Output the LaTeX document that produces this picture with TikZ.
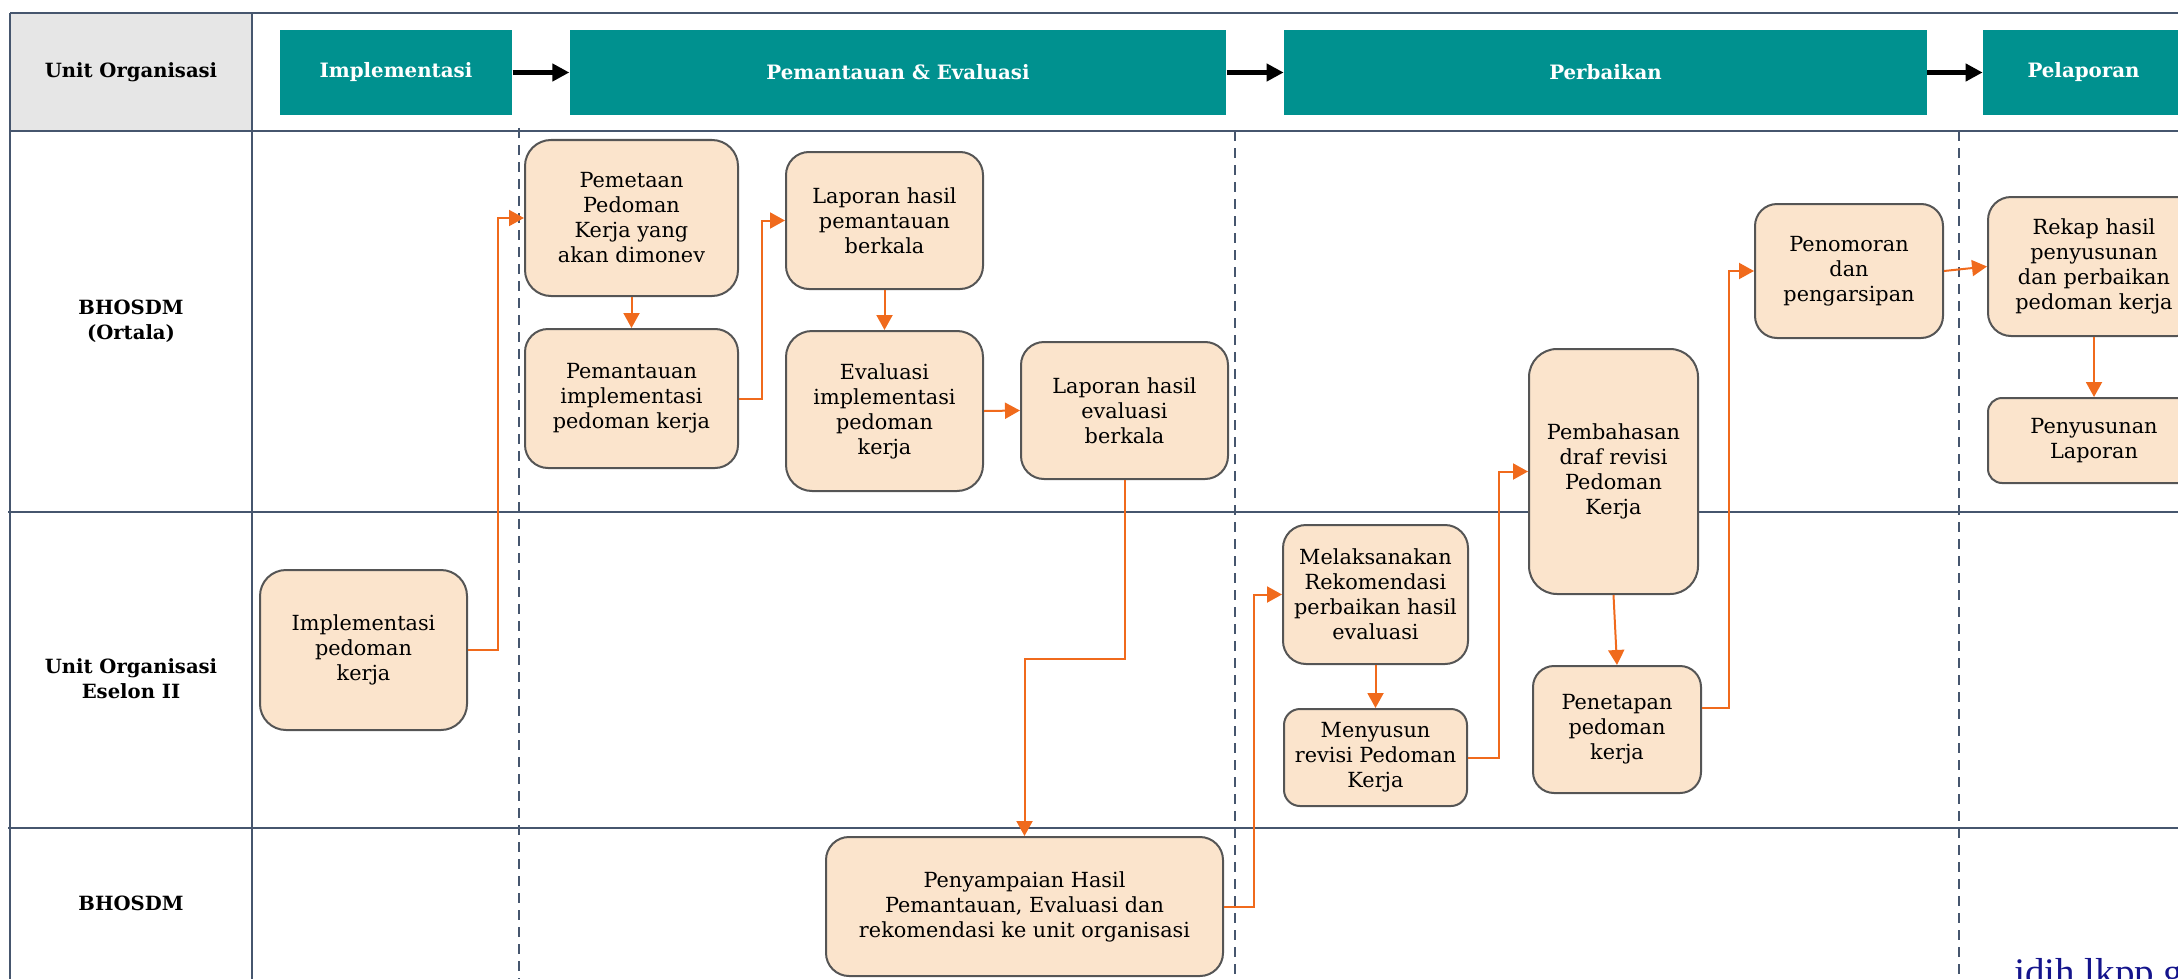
\documentclass[tikz,border=0pt]{standalone}
\usepackage{fontspec}
\setmainfont{DejaVu Serif}
\newfontfamily\wmfont{Liberation Serif}
\usetikzlibrary{arrows.meta}

\definecolor{teal1}{RGB}{0,145,143}
\definecolor{lanegray}{RGB}{230,230,230}
\definecolor{laneline}{RGB}{70,86,110}
\definecolor{boxfill}{RGB}{251,228,204}
\definecolor{boxline}{RGB}{85,85,85}
\definecolor{flowcol}{RGB}{240,106,28}
\definecolor{wmblue}{RGB}{20,20,140}

\tikzset{
  bodyfont/.style={font=\fontsize{10.4}{12.5}\selectfont},
  stepbox/.style={draw=boxline, fill=boxfill, line width=1pt, rounded corners=#1,
    align=center, bodyfont, inner sep=2pt},
  stepbox/.default=11.5pt,
  phasebox/.style={fill=teal1, text=white, align=center,
    font=\fontsize{9.9}{12.5}\selectfont\bfseries, minimum height=42.5pt, inner sep=0pt},
  lanelabel/.style={align=center, font=\fontsize{9.8}{12.5}\selectfont\bfseries},
  laneline/.style={draw=laneline, line width=1.3pt},
  phasesep/.style={draw=laneline, line width=0.75pt, dash pattern=on 5pt off 3.5pt},
  phasearrow/.style={draw=black, line width=2.2pt, -{Triangle[length=8.5pt,width=8.5pt]}},
  flow/.style={draw=flowcol, line width=1pt, -{Triangle[length=7.5pt,width=8pt]}},
}

\begin{document}
\begin{tikzpicture}[x=0.5pt,y=-0.5pt]
\useasboundingbox (0,0) rectangle (2178,979);
\clip (0,0) rectangle (2178,979);

% header cell of the lane column
\fill[lanegray] (10,13) rectangle (252,131);
\node[lanelabel] (hdr) at (131,72) {Unit Organisasi};

% grid of swimlanes
\draw[laneline] (10,13) -- (2178,13);
\draw[laneline] (10,131) -- (2178,131);
\draw[laneline] (8,512) -- (2178,512);
\draw[laneline] (8,828) -- (2178,828);
\draw[laneline] (10,13) -- (10,979);
\draw[laneline] (252,13) -- (252,979);

% phase separators
\draw[phasesep] (519,128) -- (519,979);
\draw[phasesep] (1235,131) -- (1235,979);
\draw[phasesep] (1959,131) -- (1959,979);

% lane names
\node[lanelabel] (l1) at (131,321) {BHOSDM\\(Ortala)};
\node[lanelabel] (l2) at (131,679) {Unit Organisasi\\Eselon II};
\node[lanelabel] (l3) at (131,903) {BHOSDM};

% phases
\node[phasebox, minimum width=116.25pt] (h1) at (396,72.5) {Implementasi};
\node[phasebox, minimum width=328.25pt] (h2) at (898,72.5) {Pemantauan \& Evaluasi};
\node[phasebox, minimum width=321.5pt] (h3) at (1605.5,72.5) {Perbaikan};
\node[phasebox, minimum width=100.5pt] (h4) at (2083.5,72.5) {Pelaporan};
\draw[phasearrow] (h1.east) -- (h2.west);
\draw[phasearrow] (h2.east) -- (h3.west);
\draw[phasearrow] (h3.east) -- (h4.west);

% process steps
\node[stepbox=13pt, minimum width=106.5pt, minimum height=78pt] (pm) at (631.5,218)
  {Pemetaan\\Pedoman\\Kerja yang\\akan dimonev};
\node[stepbox, minimum width=106.5pt, minimum height=69.5pt] (pi) at (631.5,398.5)
  {Pemantauan\\implementasi\\pedoman kerja};
\node[stepbox, minimum width=98.5pt, minimum height=68.5pt] (lp) at (884.5,220.5)
  {Laporan hasil\\pemantauan\\berkala};
\node[stepbox=13pt, minimum width=98.5pt, minimum height=80pt] (ev) at (884.5,411)
  {Evaluasi\\implementasi\\pedoman\\kerja};
\node[stepbox, minimum width=103.5pt, minimum height=68.5pt] (le) at (1124.5,410.5)
  {Laporan hasil\\evaluasi\\berkala};
\node[stepbox=13pt, minimum width=103.5pt, minimum height=80pt] (ip) at (363.5,650)
  {Implementasi\\pedoman\\kerja};
\node[stepbox, minimum width=198.5pt, minimum height=69.5pt] (ph) at (1024.5,906.5)
  {Penyampaian Hasil\\Pemantauan, Evaluasi dan\\rekomendasi ke unit organisasi};
\node[stepbox, minimum width=92.5pt, minimum height=69.5pt] (mr) at (1375.5,594.5)
  {Melaksanakan\\Rekomendasi\\perbaikan hasil\\evaluasi};
\node[stepbox=8pt, minimum width=91.5pt, minimum height=48.5pt] (mn) at (1375.5,757.5)
  {Menyusun\\revisi Pedoman\\Kerja};
\node[stepbox=14pt, minimum width=84.5pt, minimum height=122.5pt] (pb) at (1613.5,471.5)
  {Pembahasan\\draf revisi\\Pedoman\\Kerja};
\node[stepbox=10.5pt, minimum width=84pt, minimum height=63.5pt] (pt) at (1617,729.5)
  {Penetapan\\pedoman\\kerja};
\node[stepbox=11pt, minimum width=94pt, minimum height=67pt] (pn) at (1849,271)
  {Penomoran\\dan\\pengarsipan};
\node[stepbox, minimum width=106pt, minimum height=69.5pt] (rk) at (2094,266.5)
  {Rekap hasil\\penyusunan\\dan perbaikan\\pedoman kerja};
\node[stepbox=7pt, minimum width=106pt, minimum height=42.5pt] (ps) at (2094,440.5)
  {Penyusunan\\Laporan};

% flow
\draw[flow] (ip.east) -- ++(30,0) |- (pm.west);
\draw[flow] (pm.south) -- (pi.north);
\draw[flow] (pi.east) -- ++(23,0) |- (lp.west);
\draw[flow] (lp.south) -- (ev.north);
\draw[flow] (ev.east) -- (le.west);
\draw[flow] (le.south) -- ++(0,179) -| (ph.north);
\draw[flow] (ph.east) -- ++(30,0) |- (mr.west);
\draw[flow] (mr.south) -- (mn.north);
\draw[flow] (mn.east) -- ++(31,0) |- (pb.west);
\draw[flow] (pb.south) -- (pt.north);
\draw[flow] ([yshift=10.75pt]pt.east) -- ++(27,0) |- (pn.west);
\draw[flow] (pn.east) -- (rk.west);
\draw[flow] (rk.south) -- (ps.north);

% site mark
\node[anchor=base west, inner sep=0pt, text=wmblue,
  font=\wmfont\fontsize{19.5}{19.5}\selectfont] (wm) at (2014,985) {jdih.lkpp.go.id};
\end{tikzpicture}
\end{document}
